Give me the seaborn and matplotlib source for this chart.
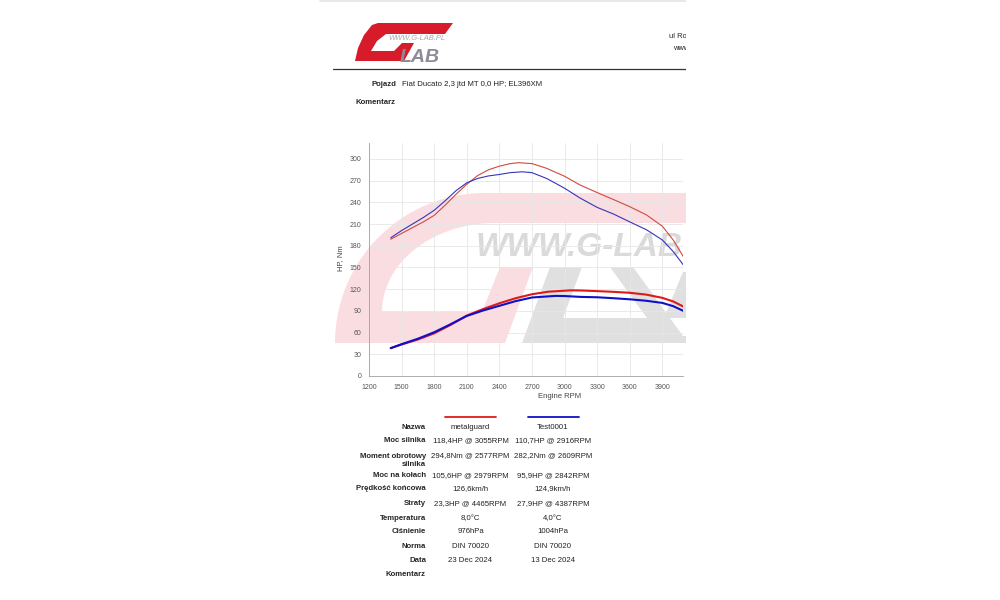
import numpy as np
import pandas as pd
import matplotlib
matplotlib.use("Agg")
import matplotlib.pyplot as plt
import seaborn as sns
from matplotlib.patches import Polygon, Rectangle
from matplotlib.lines import Line2D
from matplotlib.ticker import MultipleLocator

# ---------------- data ----------------
torque_rpm_a = [1400, 1500, 1600, 1700, 1800, 1900, 2000, 2100, 2200, 2300, 2400, 2500,
                2577, 2700, 2835, 3000, 3142, 3300, 3448, 3600, 3755, 3900, 4000, 4093]
torque_a = [189, 197, 205, 213, 222, 236, 251, 265, 277, 285, 290, 293.5,
            294.8, 293.5, 287, 276, 264, 253.5, 244, 234, 222.5, 207, 188, 165]
torque_rpm_b = [1400, 1500, 1600, 1700, 1800, 1900, 2000, 2100, 2200, 2300, 2400, 2500,
                2609, 2700, 2835, 3000, 3142, 3300, 3448, 3600, 3755, 3900, 4000, 4093]
torque_b = [191, 201, 210, 219, 229, 242, 256, 267, 273, 276.5, 278.5, 281,
            282.2, 281, 273, 259.5, 246, 233, 224, 213, 202, 188, 172, 153.5]
power_rpm_a = [1400, 1500, 1650, 1800, 1950, 2100, 2250, 2400, 2550, 2700, 2850, 3055,
               3150, 3300, 3450, 3600, 3750, 3900, 4000, 4093]
power_a = [38.5, 43.5, 50.5, 59, 70.5, 83.5, 92.5, 100.5, 107.5, 113, 116.5, 118.4,
           118.2, 117.3, 116.3, 115, 112.5, 108, 103, 96]
power_rpm_b = [1400, 1500, 1650, 1800, 1950, 2100, 2250, 2400, 2550, 2700, 2916, 3000,
               3150, 3300, 3450, 3600, 3750, 3900, 4000, 4093]
power_b = [38.5, 44, 51.5, 60.5, 71.5, 83, 90.5, 97, 103.5, 108.5, 110.7, 110.5,
           109.3, 108.8, 107.5, 106, 104, 101, 96.5, 90]

series_names = ["metalguard", "Test0001"]
x_ticks = [1200, 1500, 1800, 2100, 2400, 2700, 3000, 3300, 3600, 3900]
y_ticks = [0, 30, 60, 90, 120, 150, 180, 210, 240, 270, 300]

row_labels = ["Nazwa", "Moc silnika", "Moment obrotowy\nsilnika", "Moc na kołach",
              "Prędkość końcowa", "Straty", "Temperatura", "Ciśnienie", "Norma", "Data",
              "Komentarz"]
col_a = ["metalguard", "118,4HP @ 3055RPM", "294,8Nm @ 2577RPM", "105,6HP @ 2979RPM",
         "126,6km/h", "23,3HP @ 4465RPM", "8,0°C", "976hPa", "DIN 70020", "23 Dec 2024", ""]
col_b = ["Test0001", "110,7HP @ 2916RPM", "282,2Nm @ 2609RPM", "95,9HP @ 2842RPM",
         "124,9km/h", "27,9HP @ 4387RPM", "4,0°C", "1004hPa", "DIN 70020", "13 Dec 2024", ""]

RED_P = "#dd1a1a"
RED_T = "#d04a40"
BLUE_P = "#1010c8"
BLUE_T = "#3535bb"

sns.set_style("white")
plt.rcParams["font.family"] = ["Liberation Sans", "DejaVu Sans"]

W, H = 1000, 600
fig = plt.figure(figsize=(10, 6), dpi=100)
fig.patch.set_facecolor("white")


def P(x, y):
    return (x / W, 1 - y / H)


def poly(pts, color, z=-5, alpha=1.0):
    p = Polygon([P(x, y) for x, y in pts], closed=True, facecolor=color,
                edgecolor="none", transform=fig.transFigure, zorder=z, alpha=alpha)
    fig.add_artist(p)


# ---------------- watermark ----------------
PINK = "#fadde1"
GREY = "#e0e0e0"
t = np.linspace(0, np.pi / 2, 40)
outer = [(485 - 150 * np.cos(a), 343 - 150 * np.sin(a)) for a in t]
inner = [(495 - 113 * np.cos(a), 312 - 89 * np.sin(a)) for a in t[::-1]]
g_pts = [(335, 343)] + outer + [(690, 193), (690, 223), (495, 223)] + inner + \
        [(482, 312), (500, 267), (533, 267), (505, 343)]
poly(g_pts, PINK)
poly([(550, 267), (582, 267), (563, 318), (647, 318), (610, 267), (633, 267),
      (683, 336), (690, 336), (690, 343), (522, 343)], GREY)
poly([(683, 272), (690, 272), (690, 318), (664, 318)], GREY)
fig.text(*P(476, 256), "WWW.G-LAB", fontsize=24, fontweight="bold", fontstyle="italic",
         color="#dadada", ha="left", va="baseline", zorder=-4)

# ---------------- axes ----------------
ax = fig.add_axes([369 / W, 1 - 376 / H, (683 - 369) / W, (376 - 143) / H])
ax.set_facecolor("none")

frames = [
    pd.DataFrame({"rpm": torque_rpm_a, "val": torque_a}),
    pd.DataFrame({"rpm": torque_rpm_b, "val": torque_b}),
    pd.DataFrame({"rpm": power_rpm_a, "val": power_a}),
    pd.DataFrame({"rpm": power_rpm_b, "val": power_b}),
]
styles = [(RED_T, 0.8), (BLUE_T, 0.8), (RED_P, 1.5), (BLUE_P, 1.5)]
for df, (c, lw) in zip(frames, styles):
    sns.lineplot(data=df, x="rpm", y="val", ax=ax, color=c, linewidth=lw,
                 sort=False, zorder=3)

ax.set_xlim(1200, 4090)
ax.set_ylim(0, 322)
ax.set_xticks(x_ticks)
ax.set_yticks(y_ticks)
ax.xaxis.set_minor_locator(MultipleLocator(100))
ax.yaxis.set_minor_locator(MultipleLocator(10))
ax.grid(True, which="major", color="#e6e6e6", linewidth=0.6, zorder=0)
ax.set_axisbelow(True)
for s in ["top", "right"]:
    ax.spines[s].set_visible(False)
for s in ["left", "bottom"]:
    ax.spines[s].set_color("#a0a0a0")
    ax.spines[s].set_linewidth(0.6)
ax.tick_params(axis="both", which="major", labelsize=5.0, labelcolor="#555555",
               length=2.5, width=0.5, color="#a0a0a0", pad=3)
ax.tick_params(axis="both", which="minor", length=1.5, width=0.4, color="#b0b0b0")
ax.set_xlabel("")
ax.set_ylabel("")
fig.text(*P(560, 396), "Engine RPM", fontsize=5.5, color="#444444", ha="center", va="center")
fig.text(*P(341, 258), "HP, Nm", fontsize=5.5, color="#444444", ha="center", va="center",
         rotation=90)

# ---------------- header ----------------
poly([(355, 61), (358, 48), (364, 35), (372, 25), (378, 23), (453, 23), (445, 34),
      (386, 34), (377, 41), (371, 51), (394, 51), (402, 43), (414, 43), (404, 61)],
     "#d81b2b", z=2)
fig.text(*P(400, 62), "LAB", fontsize=14, fontweight="bold", fontstyle="italic",
         color="#8c8c98", ha="left", va="baseline", zorder=2)
fig.text(*P(388, 38.5), "WWW.G-LAB.PL", fontsize=5.4, fontstyle="italic",
         color="#a8a8a8", ha="left", va="center", zorder=3)
fig.add_artist(Line2D([333 / W, 690 / W], [1 - 69 / H] * 2, color="#333333",
                      linewidth=0.9, transform=fig.transFigure))
fig.add_artist(Line2D([320 / W, 690 / W], [1 - 1 / H] * 2, color="#e4e4e4",
                      linewidth=1.2, transform=fig.transFigure))
fig.text(*P(669, 37), "ul Rożana", fontsize=5.4, color="#222222", ha="left", va="center")
fig.text(*P(673, 48), "www.g-lab.pl", fontsize=5.4, color="#222222", ha="left", va="center")

fig.text(*P(396, 85), "Pojazd", fontsize=5.6, fontweight="bold", ha="right", va="center")
fig.text(*P(402, 85), "Fiat Ducato 2,3 jtd MT 0,0 HP; EL396XM", fontsize=5.6,
         ha="left", va="center", color="#222222")
fig.text(*P(396, 103), "Komentarz", fontsize=5.6, fontweight="bold", ha="right", va="center")

# ---------------- table ----------------
fig.add_artist(Line2D([445 / W, 496 / W], [1 - 416.5 / H] * 2, color=RED_P, linewidth=1.3,
                      transform=fig.transFigure))
fig.add_artist(Line2D([528 / W, 579 / W], [1 - 416.5 / H] * 2, color=BLUE_P, linewidth=1.3,
                      transform=fig.transFigure))
row_y = [427.7, 441, 456, 475.3, 488.7, 503.3, 518.3, 531.7, 546, 560.3, 575]
for lab, a, b, y in zip(row_labels, col_a, col_b, row_y):
    if "\n" in lab:
        l1, l2 = lab.split("\n")
        fig.text(*P(426, y), l1, fontsize=5.6, fontweight="bold", ha="right", va="center")
        fig.text(*P(426, y + 8.5), l2, fontsize=5.6, fontweight="bold", ha="right", va="center")
    else:
        fig.text(*P(426, y), lab, fontsize=5.6, fontweight="bold", ha="right", va="center")
    fig.text(*P(470.5, y), a, fontsize=5.6, ha="center", va="center", color="#222222")
    fig.text(*P(553, y), b, fontsize=5.6, ha="center", va="center", color="#222222")

# crop of the page on the right
fig.add_artist(Rectangle((686 / W, 0), 1 - 686 / W, 1, facecolor="white", edgecolor="none",
                         transform=fig.transFigure, zorder=50))

fig.savefig("out.png", dpi=100, facecolor="white")
